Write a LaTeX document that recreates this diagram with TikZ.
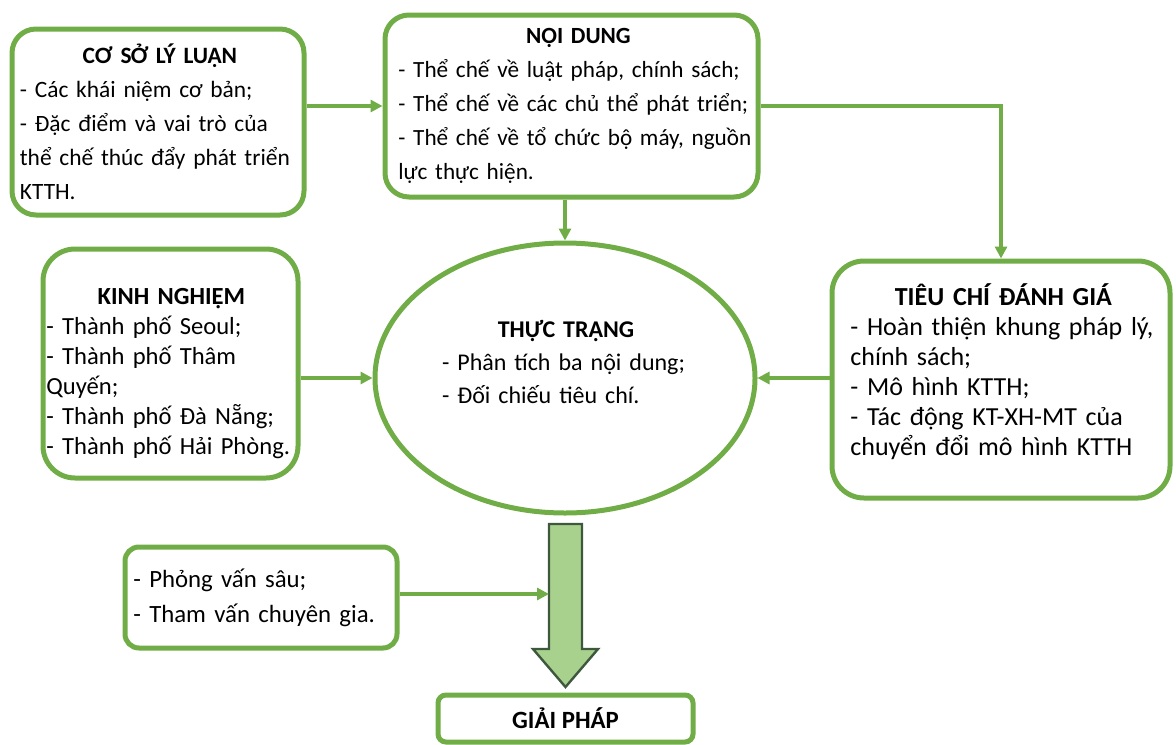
\documentclass[tikz,border=0pt]{standalone}
\usepackage{fontspec}
\setmainfont{Carlito}
\usetikzlibrary{arrows.meta, shapes.geometric, positioning}
\definecolor{MyGreen}{RGB}{112, 173, 71}
\definecolor{LightGreen}{RGB}{169, 209, 142}
\definecolor{DarkEdge}{RGB}{62, 88, 62}

\begin{document}
\begin{tikzpicture}[
                x=0.5pt, y=-0.5pt,
                frame/.style={rectangle, draw=MyGreen, line width=2.5pt, rounded corners=12pt},
                txt/.style={inner sep=0pt, align=left, font=\fontsize{11.7pt}{17pt}\selectfont},
                arr/.style={-{Triangle[length=6pt, width=6pt]}, MyGreen, line width=1.6pt},
                bigarr/.style={draw=DarkEdge, fill=LightGreen, line width=1.2pt, line join=miter}
            ]
                \useasboundingbox (0,0) rectangle (1176,744);

                \node[frame, minimum width=146pt, minimum height=93pt] (coso) at (158,122) {};
                \node[frame, minimum width=186.5pt, minimum height=91pt] (noidung) at (571.5,106) {};
                \node[frame, rounded corners=16pt, minimum width=127.5pt, minimum height=114.5pt] (kinhnghiem) at (170.5,363.5) {};
                \node[ellipse, draw=MyGreen, line width=2.5pt, minimum width=190pt, minimum height=135pt] (thuctrang) at (565,378) {};
                \node[frame, rounded corners=16pt, minimum width=169pt, minimum height=118.5pt] (tieuchi) at (1001,379.5) {};
                \node[frame, rounded corners=7pt, minimum width=136pt, minimum height=50.5pt] (phongvan) at (261,597.5) {};
                \node[frame, rounded corners=4pt, minimum width=127.5pt, minimum height=23.5pt,
                      font=\fontsize{12.4pt}{15pt}\selectfont\bfseries] (giaiphap) at (565.5,718.5) {GIẢI PHÁP};

                \node[txt, text width=140pt, right=5pt of coso.west] (cosotxt)
                    {\makebox[\linewidth]{\bfseries CƠ SỞ LÝ LUẬN}\\- Các khái niệm cơ bản;\\- Đặc điểm và vai trò của\\thể chế thúc đẩy phát triển\\KTTH.};
                \node[txt, text width=180pt, right=7.75pt of noidung.west,
                      font=\fontsize{11.6pt}{17pt}\selectfont] (noidungtxt)
                    {\makebox[\linewidth]{\bfseries NỘI DUNG}\\- Thể chế về luật pháp, chính sách;\\- Thể chế về các chủ thể phát triển;\\- Thể chế về tổ chức bộ máy, nguồn\\lực thực hiện.};
                \node[txt, text width=125pt, right=2.75pt of kinhnghiem.west, yshift=-5pt,
                      font=\fontsize{12.3pt}{15pt}\selectfont] (kinhnghiemtxt)
                    {\makebox[\linewidth]{\bfseries KINH NGHIỆM}\\- Thành phố Seoul;\\- Thành phố Thâm\\Quyến;\\- Thành phố Đà Nẵng;\\- Thành phố Hải Phòng.};
                \node[txt, text width=124pt, font=\fontsize{12pt}{16.5pt}\selectfont] (thuctrangtxt) at (566,362)
                    {\makebox[\linewidth]{\bfseries THỰC TRẠNG}\\- Phân tích ba nội dung;\\- Đối chiếu tiêu chí.};
                \node[txt, text width=153pt, right=10.25pt of tieuchi.west, yshift=4pt,
                      font=\fontsize{13pt}{15pt}\selectfont] (tieuchitxt)
                    {\makebox[\linewidth]{\bfseries TIÊU CHÍ ĐÁNH GIÁ}\\- Hoàn thiện khung pháp lý,\\chính sách;\\- Mô hình KTTH;\\- Tác động KT-XH-MT của\\chuyển đổi mô hình KTTH};
                \node[txt, text width=128pt, right=5.25pt of phongvan.west, font=\fontsize{12.4pt}{17.5pt}\selectfont] (phongvantxt)
                    {- Phỏng vấn sâu;\\- Tham vấn chuyên gia.};

                \draw[bigarr] (549,524) -- (582,524) -- (582,649) -- (598,649) -- (565.5,687)
                    -- (533,649) -- (549,649) -- cycle;
                \coordinate (shaftin) at (549,594);

                \draw[arr] (coso.east |- noidung.west) -- (noidung.west);
                \draw[arr] (noidung.south -| thuctrang.north) -- (thuctrang.north);
                \draw[arr] (noidung.east) -| (tieuchi.north);
                \draw[arr] (kinhnghiem.east |- thuctrang.west) -- (thuctrang.west);
                \draw[arr] (tieuchi.west |- thuctrang.east) -- (thuctrang.east);
                \draw[arr] (phongvan.east |- shaftin) -- (shaftin);
            \end{tikzpicture}
\end{document}
